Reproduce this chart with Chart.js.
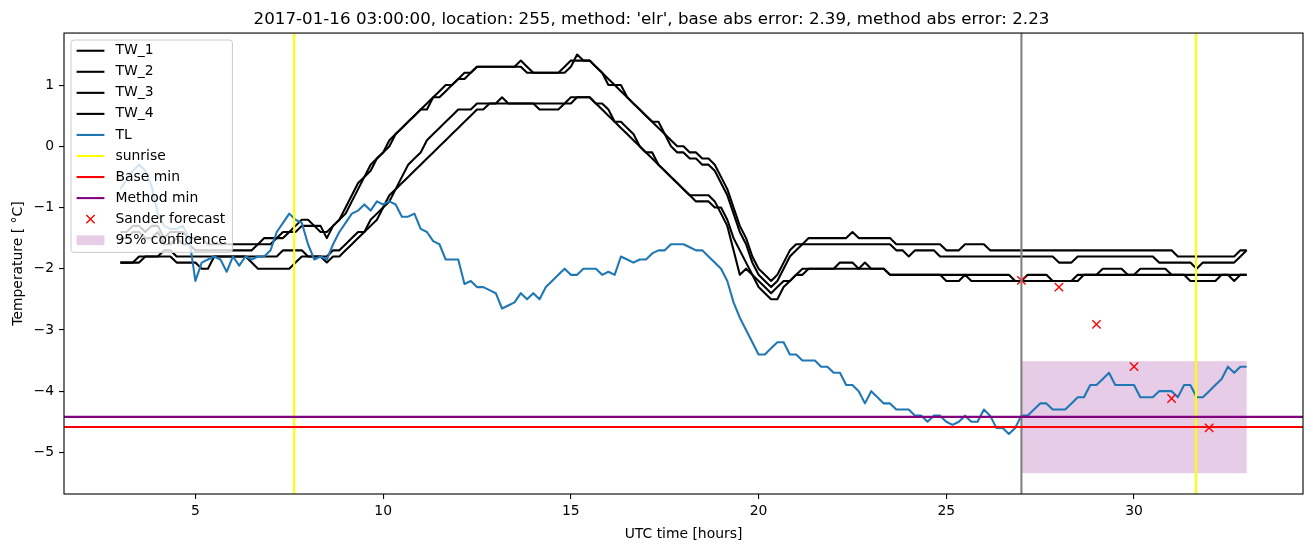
<!DOCTYPE html>
<html>
<head>
<meta charset="utf-8">
<title>Temperature forecast</title>
<script src="https://cdn.jsdelivr.net/npm/chart.js@4.4.1/dist/chart.umd.min.js"></script>
<style>
  html, body { margin: 0; padding: 0; background: #fff; }
  #wrap { width: 1313px; height: 547px; }
</style>
</head>
<body>
<div id="wrap"><canvas id="chart" width="1313" height="547"></canvas></div>
<script>
// 10-minute readings, from hour 3 to hour 33 (one row per hour)
const firstHour = 3;
const stepHours = 1 / 6;

const tw1 = [
  -1.4, -1.4, -1.3, -1.3, -1.4, -1.3,   // 3
  -1.3, -1.5, -1.4, -1.4, -1.4, -1.5,   // 4
  -1.5, -1.5, -1.6, -1.6, -1.6, -1.6,   // 5
  -1.6, -1.6, -1.6, -1.6, -1.6, -1.5,   // 6
  -1.5, -1.5, -1.4, -1.4, -1.3, -1.2,   // 7
  -1.2, -1.3, -1.3, -1.5, -1.3, -1.2,   // 8
  -1.0, -0.8, -0.6, -0.5, -0.3, -0.2,   // 9
  -0.1, 0.1, 0.2, 0.3, 0.4, 0.5,        // 10
  0.6, 0.7, 0.8, 0.9, 1.0, 1.0,         // 11
  1.1, 1.2, 1.2, 1.3, 1.3, 1.3,         // 12
  1.3, 1.3, 1.3, 1.3, 1.4, 1.3,         // 13
  1.2, 1.2, 1.2, 1.2, 1.2, 1.3,         // 14
  1.4, 1.4, 1.4, 1.4, 1.3, 1.2,         // 15
  1.1, 1.0, 1.0, 0.8, 0.7, 0.6,         // 16
  0.5, 0.4, 0.4, 0.2, 0.1, 0.0,         // 17
  0.0, -0.1, -0.1, -0.2, -0.2, -0.3,    // 18
  -0.5, -0.7, -1.0, -1.3, -1.5, -1.8,   // 19
  -2.0, -2.1, -2.2, -2.1, -1.9, -1.7,   // 20
  -1.6, -1.6, -1.5, -1.5, -1.5, -1.5,   // 21
  -1.5, -1.5, -1.5, -1.4, -1.5, -1.5,   // 22
  -1.5, -1.5, -1.5, -1.5, -1.6, -1.6,   // 23
  -1.6, -1.6, -1.6, -1.6, -1.6, -1.6,   // 24
  -1.7, -1.7, -1.7, -1.6, -1.6, -1.6,   // 25
  -1.6, -1.7, -1.7, -1.7, -1.7, -1.7,   // 26
  -1.7, -1.7, -1.7, -1.7, -1.7, -1.7,   // 27
  -1.7, -1.7, -1.7, -1.7, -1.7, -1.7,   // 28
  -1.7, -1.7, -1.7, -1.7, -1.7, -1.7,   // 29
  -1.7, -1.7, -1.7, -1.7, -1.7, -1.7,   // 30
  -1.7, -1.8, -1.8, -1.8, -1.8, -1.8,   // 31
  -1.8, -1.8, -1.8, -1.8, -1.8, -1.7,   // 32
  -1.7                                  // 33
];

const tw2 = [
  -1.5, -1.5, -1.4, -1.4, -1.5, -1.5,   // 3
  -1.4, -1.6, -1.6, -1.5, -1.6, -1.6,   // 4
  -1.7, -1.7, -1.7, -1.7, -1.7, -1.7,   // 5
  -1.7, -1.7, -1.7, -1.7, -1.6, -1.6,   // 6
  -1.6, -1.5, -1.5, -1.4, -1.4, -1.3,   // 7
  -1.3, -1.3, -1.4, -1.4, -1.3, -1.2,   // 8
  -1.1, -0.9, -0.7, -0.5, -0.4, -0.2,   // 9
  -0.1, 0.0, 0.2, 0.3, 0.4, 0.5,        // 10
  0.6, 0.6, 0.8, 0.8, 0.9, 1.0,         // 11
  1.1, 1.1, 1.2, 1.3, 1.3, 1.3,         // 12
  1.3, 1.3, 1.3, 1.3, 1.3, 1.2,         // 13
  1.2, 1.2, 1.2, 1.2, 1.2, 1.2,         // 14
  1.3, 1.5, 1.4, 1.4, 1.3, 1.2,         // 15
  1.0, 1.0, 0.9, 0.8, 0.7, 0.6,         // 16
  0.5, 0.4, 0.3, 0.2, 0.0, -0.1,        // 17
  -0.1, -0.2, -0.2, -0.3, -0.3, -0.4,   // 18
  -0.6, -0.8, -1.1, -1.4, -1.6, -1.9,   // 19
  -2.1, -2.2, -2.3, -2.2, -2.0, -1.8,   // 20
  -1.7, -1.6, -1.6, -1.6, -1.6, -1.6,   // 21
  -1.6, -1.6, -1.6, -1.6, -1.6, -1.6,   // 22
  -1.6, -1.6, -1.6, -1.6, -1.7, -1.7,   // 23
  -1.8, -1.7, -1.7, -1.7, -1.7, -1.8,   // 24
  -1.8, -1.8, -1.8, -1.8, -1.8, -1.8,   // 25
  -1.8, -1.8, -1.8, -1.8, -1.8, -1.8,   // 26
  -1.8, -1.8, -1.8, -1.8, -1.8, -1.8,   // 27
  -1.9, -1.9, -1.9, -1.8, -1.8, -1.8,   // 28
  -1.8, -1.8, -1.8, -1.8, -1.8, -1.8,   // 29
  -1.8, -1.8, -1.8, -1.8, -1.9, -1.9,   // 30
  -1.9, -1.9, -1.9, -1.9, -2.0, -1.9,   // 31
  -1.9, -1.9, -1.9, -1.9, -1.9, -1.8,   // 32
  -1.7                                  // 33
];

const tw3 = [
  -1.9, -1.9, -1.9, -1.8, -1.8, -1.8,   // 3
  -1.8, -1.7, -1.7, -1.8, -1.8, -1.8,   // 4
  -1.8, -1.8, -1.8, -1.8, -1.8, -1.8,   // 5
  -1.8, -1.8, -1.8, -1.8, -1.8, -1.8,   // 6
  -1.8, -1.8, -1.7, -1.7, -1.7, -1.7,   // 7
  -1.8, -1.8, -1.8, -1.8, -1.7, -1.7,   // 8
  -1.6, -1.5, -1.4, -1.4, -1.2, -1.1,   // 9
  -1.0, -0.8, -0.7, -0.5, -0.3, -0.2,   // 10
  -0.1, 0.1, 0.2, 0.3, 0.4, 0.5,        // 11
  0.6, 0.6, 0.6, 0.7, 0.7, 0.7,         // 12
  0.7, 0.8, 0.7, 0.7, 0.7, 0.7,         // 13
  0.7, 0.7, 0.7, 0.7, 0.7, 0.7,         // 14
  0.8, 0.8, 0.8, 0.8, 0.7, 0.7,         // 15
  0.6, 0.4, 0.4, 0.3, 0.2, 0.0,         // 16
  -0.1, -0.1, -0.3, -0.4, -0.5, -0.6,   // 17
  -0.7, -0.8, -0.8, -0.8, -0.8, -0.9,   // 18
  -1.1, -1.3, -1.7, -2.1, -2.0, -2.1,   // 19
  -2.2, -2.3, -2.4, -2.3, -2.2, -2.2,   // 20
  -2.1, -2.0, -2.0, -2.0, -2.0, -2.0,   // 21
  -2.0, -1.9, -1.9, -1.9, -2.0, -1.9,   // 22
  -2.0, -2.0, -2.0, -2.1, -2.1, -2.1,   // 23
  -2.1, -2.1, -2.1, -2.1, -2.1, -2.1,   // 24
  -2.1, -2.1, -2.1, -2.1, -2.1, -2.1,   // 25
  -2.1, -2.1, -2.1, -2.1, -2.1, -2.2,   // 26
  -2.2, -2.1, -2.1, -2.1, -2.1, -2.2,   // 27
  -2.2, -2.2, -2.2, -2.1, -2.1, -2.1,   // 28
  -2.1, -2.0, -2.0, -2.0, -2.0, -2.1,   // 29
  -2.1, -2.1, -2.1, -2.1, -2.1, -2.1,   // 30
  -2.1, -2.1, -2.1, -2.1, -2.1, -2.1,   // 31
  -2.1, -2.1, -2.1, -2.1, -2.1, -2.1,   // 32
  -2.1                                  // 33
];

const tw4 = [
  -1.9, -1.9, -1.9, -1.9, -1.8, -1.8,   // 3
  -1.8, -1.8, -1.8, -1.9, -1.9, -1.9,   // 4
  -1.9, -2.0, -2.0, -1.8, -1.8, -1.8,   // 5
  -1.8, -1.8, -1.8, -1.9, -2.0, -2.0,   // 6
  -2.0, -2.0, -2.0, -2.0, -1.9, -1.8,   // 7
  -1.8, -1.8, -1.8, -1.9, -1.8, -1.8,   // 8
  -1.7, -1.6, -1.5, -1.4, -1.3, -1.2,   // 9
  -1.0, -0.9, -0.7, -0.6, -0.5, -0.4,   // 10
  -0.3, -0.2, -0.1, 0.0, 0.1, 0.2,      // 11
  0.3, 0.4, 0.5, 0.6, 0.6, 0.7,         // 12
  0.7, 0.7, 0.7, 0.7, 0.7, 0.7,         // 13
  0.7, 0.6, 0.6, 0.6, 0.6, 0.7,         // 14
  0.7, 0.8, 0.8, 0.8, 0.7, 0.6,         // 15
  0.5, 0.4, 0.3, 0.2, 0.1, 0.0,         // 16
  -0.1, -0.2, -0.3, -0.4, -0.5, -0.6,   // 17
  -0.7, -0.8, -0.9, -0.9, -0.9, -1.0,   // 18
  -1.0, -1.2, -1.5, -1.7, -1.9, -2.1,   // 19
  -2.3, -2.4, -2.5, -2.5, -2.3, -2.2,   // 20
  -2.1, -2.1, -2.0, -2.0, -2.0, -2.0,   // 21
  -2.0, -2.0, -2.0, -2.0, -2.0, -2.0,   // 22
  -2.0, -2.0, -2.0, -2.1, -2.1, -2.1,   // 23
  -2.1, -2.1, -2.1, -2.1, -2.1, -2.1,   // 24
  -2.2, -2.2, -2.2, -2.1, -2.2, -2.2,   // 25
  -2.2, -2.2, -2.2, -2.2, -2.2, -2.2,   // 26
  -2.2, -2.2, -2.2, -2.2, -2.2, -2.2,   // 27
  -2.2, -2.2, -2.2, -2.2, -2.1, -2.1,   // 28
  -2.1, -2.1, -2.1, -2.1, -2.1, -2.1,   // 29
  -2.1, -2.0, -2.0, -2.0, -2.0, -2.0,   // 30
  -2.1, -2.1, -2.1, -2.2, -2.2, -2.2,   // 31
  -2.2, -2.2, -2.1, -2.1, -2.2, -2.1,   // 32
  -2.1                                  // 33
];

const tl = [
  -0.7, -0.55, -0.4, -0.3, -0.4, -0.65,    // 3
  -1.1, -1.3, -1.35, -1.35, -1.3, -1.5,    // 4
  -2.2, -1.9, -1.85, -1.8, -1.85, -2.05,   // 5
  -1.8, -1.95, -1.8, -1.85, -1.8, -1.8,    // 6
  -1.7, -1.4, -1.25, -1.1, -1.2, -1.25,    // 7
  -1.6, -1.85, -1.8, -1.85, -1.6, -1.4,    // 8
  -1.25, -1.1, -1.05, -0.95, -1.05, -0.9,  // 9
  -0.95, -0.9, -0.95, -1.15, -1.15, -1.1,  // 10
  -1.35, -1.4, -1.55, -1.6, -1.85, -1.85,  // 11
  -1.85, -2.25, -2.2, -2.3, -2.3, -2.35,   // 12
  -2.4, -2.65, -2.6, -2.55, -2.4, -2.5,    // 13
  -2.4, -2.5, -2.3, -2.2, -2.1, -2.0,      // 14
  -2.1, -2.1, -2.0, -2.0, -2.0, -2.1,      // 15
  -2.05, -2.1, -1.8, -1.85, -1.9, -1.85,   // 16
  -1.85, -1.75, -1.7, -1.7, -1.6, -1.6,    // 17
  -1.6, -1.65, -1.7, -1.7, -1.8, -1.9,     // 18
  -2.0, -2.2, -2.55, -2.8, -3.0, -3.2,     // 19
  -3.4, -3.4, -3.3, -3.2, -3.2, -3.4,      // 20
  -3.4, -3.5, -3.5, -3.5, -3.6, -3.6,      // 21
  -3.7, -3.7, -3.9, -3.9, -4.0, -4.2,      // 22
  -4.0, -4.1, -4.2, -4.2, -4.3, -4.3,      // 23
  -4.3, -4.4, -4.4, -4.5, -4.4, -4.4,      // 24
  -4.5, -4.55, -4.5, -4.4, -4.5, -4.5,     // 25
  -4.3, -4.4, -4.6, -4.6, -4.7, -4.6,      // 26
  -4.4, -4.4, -4.3, -4.2, -4.2, -4.3,      // 27
  -4.3, -4.3, -4.2, -4.1, -4.1, -3.9,      // 28
  -3.9, -3.8, -3.7, -3.9, -3.9, -3.9,      // 29
  -3.9, -4.1, -4.1, -4.1, -4.0, -4.0,      // 30
  -4.0, -4.1, -3.9, -3.9, -4.1, -4.1,      // 31
  -4.0, -3.9, -3.8, -3.6, -3.7, -3.6,      // 32
  -3.6                                     // 33
];

const forecastHours = [27, 28, 29, 30, 31, 32];
const forecastValues = [-2.19, -2.3, -2.91, -3.6, -4.12, -4.6];

const sunriseHours = [7.63, 31.65];
const nowHour = 27;
const baseMin = -4.585;
const methodMin = -4.42;
const bandHours = [27, 33];
const bandRange = [-5.34, -3.51];

const xTicks = [5, 10, 15, 20, 25, 30];
const yTicks = [-5, -4, -3, -2, -1, 0, 1];

const titleText = "2017-01-16 03:00:00, location: 255, method: 'elr', base abs error: 2.39, method abs error: 2.23";

// ---- styling ----
const FONT = "'DejaVu Sans', 'Liberation Sans', sans-serif";
const LW = 2.08;        // 1.5pt line
const BLUE = '#1f77b4';
const BAND = 'rgba(128, 0, 128, 0.2)';

Chart.defaults.font.family = FONT;
Chart.defaults.font.size = 13.9;
Chart.defaults.color = '#000';

const toPoints = (vals) => vals.map((v, i) => ({ x: firstHour + i * stepHours, y: v }));
const minus = (v) => (v < 0 ? '\u2212' + Math.abs(v) : String(v));

function lineSet(label, vals, color, order) {
  return {
    label: label,
    data: toPoints(vals),
    borderColor: color,
    borderWidth: LW,
    pointRadius: 0,
    pointHoverRadius: 0,
    tension: 0,
    fill: false,
    borderJoinStyle: 'round',
    order: order
  };
}

const legendItems = [
  { label: 'TW_1', kind: 'line', color: '#000' },
  { label: 'TW_2', kind: 'line', color: '#000' },
  { label: 'TW_3', kind: 'line', color: '#000' },
  { label: 'TW_4', kind: 'line', color: '#000' },
  { label: 'TL', kind: 'line', color: BLUE },
  { label: 'sunrise', kind: 'line', color: '#ffff00' },
  { label: 'Base min', kind: 'line', color: '#ff0000' },
  { label: 'Method min', kind: 'line', color: '#800080' },
  { label: 'Sander forecast', kind: 'marker', color: '#ff0000' },
  { label: '95% confidence', kind: 'patch', color: BAND }
];

function roundedRect(ctx, x, y, w, h, r) {
  ctx.beginPath();
  ctx.moveTo(x + r, y);
  ctx.lineTo(x + w - r, y);
  ctx.arcTo(x + w, y, x + w, y + r, r);
  ctx.lineTo(x + w, y + h - r);
  ctx.arcTo(x + w, y + h, x + w - r, y + h, r);
  ctx.lineTo(x + r, y + h);
  ctx.arcTo(x, y + h, x, y + h - r, r);
  ctx.lineTo(x, y + r);
  ctx.arcTo(x, y, x + r, y, r);
  ctx.closePath();
}

const decorations = {
  id: 'decorations',
  beforeDatasetsDraw(chart) {
    const { ctx, chartArea: a, scales: { x, y } } = chart;
    ctx.save();
    ctx.beginPath();
    ctx.rect(a.left, a.top, a.width, a.height);
    ctx.clip();
    const x0 = x.getPixelForValue(bandHours[0]);
    const x1 = x.getPixelForValue(bandHours[1]);
    const y0 = y.getPixelForValue(bandRange[1]);
    const y1 = y.getPixelForValue(bandRange[0]);
    ctx.fillStyle = BAND;
    ctx.fillRect(x0, y0, x1 - x0, y1 - y0);
    ctx.restore();
  },
  afterDatasetsDraw(chart) {
    const { ctx, chartArea: a, scales: { x, y } } = chart;
    ctx.save();
    ctx.beginPath();
    ctx.rect(a.left, a.top, a.width, a.height);
    ctx.clip();
    ctx.lineWidth = LW;
    const vline = (h, color) => {
      const px = x.getPixelForValue(h);
      ctx.strokeStyle = color;
      ctx.beginPath(); ctx.moveTo(px, a.top); ctx.lineTo(px, a.bottom); ctx.stroke();
    };
    const hline = (v, color) => {
      const py = y.getPixelForValue(v);
      ctx.strokeStyle = color;
      ctx.beginPath(); ctx.moveTo(a.left, py); ctx.lineTo(a.right, py); ctx.stroke();
    };
    vline(nowHour, '#808080');
    sunriseHours.forEach(h => vline(h, '#ffff00'));
    hline(baseMin, '#ff0000');
    hline(methodMin, '#800080');
    ctx.restore();
  },
  afterDraw(chart) {
    const { ctx, chartArea: a } = chart;
    ctx.save();
    // axes frame
    ctx.strokeStyle = '#000';
    ctx.lineWidth = 1.1;
    ctx.strokeRect(a.left, a.top, a.right - a.left, a.bottom - a.top);

    // legend, upper left inside the axes
    const fs = 13.9;
    ctx.font = fs + 'px ' + FONT;
    const textW = Math.max(...legendItems.map(it => ctx.measureText(it.label).width));
    const left = a.left + 7, top = a.top + 7;
    const pad = 5.6, handleLen = 27.8, gap = 11.1, pitch = 21.05, first = 10.7;
    const w = pad + handleLen + gap + textW + pad;
    const h = first * 2 + pitch * (legendItems.length - 1) + 1.5;
    roundedRect(ctx, left, top, w, h, 3);
    ctx.fillStyle = 'rgba(255, 255, 255, 0.8)';
    ctx.fill();
    ctx.strokeStyle = '#cccccc';
    ctx.lineWidth = 1;
    ctx.stroke();

    legendItems.forEach((it, k) => {
      const cy = top + first + k * pitch;
      const hx = left + pad;
      if (it.kind === 'line') {
        ctx.strokeStyle = it.color;
        ctx.lineWidth = LW;
        ctx.beginPath(); ctx.moveTo(hx, cy); ctx.lineTo(hx + handleLen, cy); ctx.stroke();
      } else if (it.kind === 'marker') {
        const cx = hx + handleLen / 2, r = 4.17;
        ctx.strokeStyle = it.color;
        ctx.lineWidth = 1.4;
        ctx.beginPath();
        ctx.moveTo(cx - r, cy - r); ctx.lineTo(cx + r, cy + r);
        ctx.moveTo(cx - r, cy + r); ctx.lineTo(cx + r, cy - r);
        ctx.stroke();
      } else {
        ctx.fillStyle = it.color;
        ctx.fillRect(hx, cy - 4.85, handleLen, 9.7);
      }
      ctx.fillStyle = '#000';
      ctx.textBaseline = 'middle';
      ctx.textAlign = 'left';
      ctx.fillText(it.label, hx + handleLen + gap, cy);
    });
    ctx.restore();
  }
};

new Chart(document.getElementById('chart'), {
  type: 'line',
  data: {
    datasets: [
      lineSet('TW_1', tw1, '#000', 10),
      lineSet('TW_2', tw2, '#000', 9),
      lineSet('TW_3', tw3, '#000', 8),
      lineSet('TW_4', tw4, '#000', 7),
      lineSet('TL', tl, BLUE, 3),
      {
        label: 'Sander forecast',
        data: forecastHours.map((hh, i) => ({ x: hh, y: forecastValues[i] })),
        showLine: false,
        pointStyle: 'crossRot',
        pointRadius: 5.9,
        pointHoverRadius: 5.9,
        pointBorderColor: '#ff0000',
        pointBackgroundColor: '#ff0000',
        pointBorderWidth: 1.4,
        borderColor: '#ff0000',
        order: 1
      }
    ]
  },
  options: {
    responsive: false,
    devicePixelRatio: 1,
    animation: false,
    events: [],
    layout: { padding: { left: 0, right: 10, top: 0, bottom: 0 } },
    plugins: {
      legend: { display: false },
      tooltip: { enabled: false },
      title: {
        display: true,
        text: titleText,
        color: '#000',
        font: { size: 16.7, weight: 'normal', family: FONT },
        padding: { top: 10, bottom: 3 }
      }
    },
    scales: {
      x: {
        type: 'linear',
        min: 1.5,
        max: 34.5,
        afterBuildTicks: (axis) => { axis.ticks = xTicks.map(v => ({ value: v })); },
        afterFit: (scale) => { scale.height = 53; },
        ticks: { callback: (v) => minus(v), padding: 4, maxRotation: 0, color: '#000' },
        grid: { display: true, drawOnChartArea: false, drawTicks: true, tickLength: 5, color: '#000', lineWidth: 1.1 },
        border: { display: false },
        title: { display: true, text: 'UTC time [hours]', color: '#000', padding: { top: 10, bottom: 4 } }
      },
      y: {
        type: 'linear',
        min: -5.68,
        max: 1.85,
        afterBuildTicks: (axis) => { axis.ticks = yTicks.map(v => ({ value: v })); },
        afterFit: (scale) => { scale.width = 64; },
        ticks: { callback: (v) => minus(v), padding: 5, color: '#000' },
        grid: { display: true, drawOnChartArea: false, drawTicks: true, tickLength: 5, color: '#000', lineWidth: 1.1 },
        border: { display: false },
        title: { display: true, text: 'Temperature [ \u00b0C]', color: '#000', padding: { top: 10, bottom: 4 } }
      }
    }
  },
  plugins: [decorations]
});
</script>
</body>
</html>
